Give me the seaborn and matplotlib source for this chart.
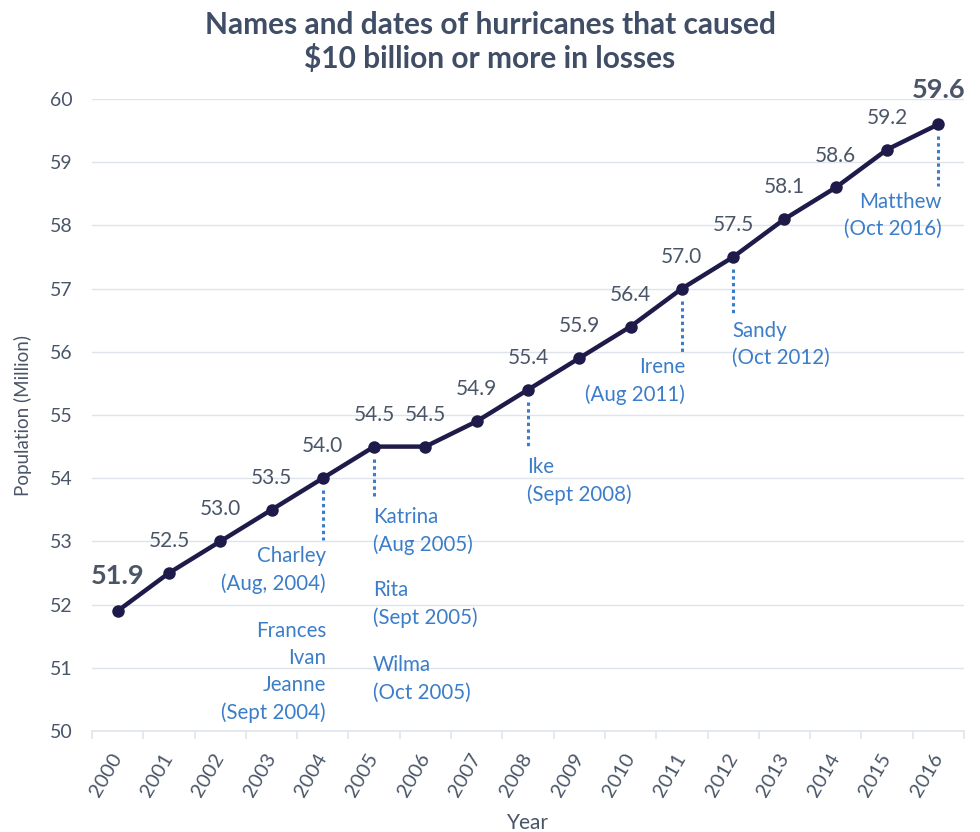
import matplotlib
matplotlib.use("Agg")
import matplotlib.pyplot as plt
import seaborn as sns
import pandas as pd
import numpy as np

years = [str(y) for y in range(2000, 2017)]
population = [51.9, 52.5, 53.0, 53.5, 54.0, 54.5, 54.5, 54.9, 55.4,
              55.9, 56.4, 57.0, 57.5, 58.1, 58.6, 59.2, 59.6]

# hurricane notes: year, text, alignment side, and how far below the point the text starts
storm_years = ["2004", "2004", "2005", "2005", "2005", "2008", "2011", "2012", "2016"]
storm_texts = ["Charley\n(Aug, 2004)", "Frances\nIvan\nJeanne\n(Sept 2004)",
               "Katrina\n(Aug 2005)", "Rita\n(Sept 2005)", "Wilma\n(Oct 2005)",
               "Ike\n(Sept 2008)", "Irene\n(Aug 2011)", "Sandy\n(Oct 2012)",
               "Matthew\n(Oct 2016)"]
storm_side = ["right", "right", "left", "left", "left", "left", "right", "left", "right"]
storm_drop = [1.07, 2.26, 0.96, 2.11, 3.30, 1.06, 1.08, 1.01, 1.07]
line_years = ["2004", "2005", "2008", "2011", "2012", "2016"]
line_len = [0.79, 0.63, 0.70, 0.82, 0.71, 0.79]

df = pd.DataFrame({"year": years, "pos": np.arange(len(years)), "pop": population})

sns.set_theme(style="white")
plt.rcParams["font.family"] = ["Lato", "DejaVu Sans"]

NAVY = "#1e1b4b"
SLATE = "#4a5568"
BLUE = "#3b7dc8"
GRID = "#dfe4ec"

fig = plt.figure(figsize=(9.8, 8.32), dpi=100)
ax = fig.add_axes([92 / 980, 1 - 731 / 832, 872 / 980, 632 / 832])

sns.lineplot(data=df, x="pos", y="pop", ax=ax, color=NAVY, linewidth=3.2,
             marker="o", markersize=9, markeredgewidth=0, zorder=3)

ax.set_xlim(-0.5, len(years) - 0.5)
ax.set_ylim(50, 60)
ax.set_yticks(range(50, 61))
ax.yaxis.grid(True, color=GRID, linewidth=1)
ax.xaxis.grid(False)
for s in ["top", "right", "left"]:
    ax.spines[s].set_visible(False)
ax.spines["bottom"].set_color(GRID)
ax.spines["bottom"].set_linewidth(1.2)

ax.set_xticks(np.arange(len(years)))
ax.set_xticklabels(years, rotation=60, ha="right", va="center",
                   rotation_mode="anchor")
ax.set_xticks(np.arange(len(years) + 1) - 0.5, minor=True)
ax.tick_params(axis="x", which="major", length=0, pad=17, labelsize=14.5,
               labelcolor=SLATE)
ax.tick_params(axis="x", which="minor", length=6, width=1.2, color=GRID,
               direction="out", bottom=True)
ax.tick_params(axis="y", length=0, pad=14, labelsize=14, labelcolor=SLATE)

ax.set_xlabel("Year", fontsize=15, color=SLATE, labelpad=10)
ax.set_ylabel("Population (Million)", fontsize=13.5, color=SLATE, labelpad=13)

# value labels
last = len(years) - 1
for i, v in enumerate(population):
    bold = i in (0, last)
    ax.annotate(f"{v:.1f}", (i, v), xytext=(0, 25 if bold else 23),
                textcoords="offset points", ha="center", va="center",
                fontsize=19.5 if bold else 15, fontweight="bold" if bold else "normal",
                color=SLATE, annotation_clip=False)

# dotted leader lines below the hurricane years
for yr, ln in zip(line_years, line_len):
    i = years.index(yr)
    v = population[i]
    ax.vlines(i, v - 0.19, v - 0.19 - ln, colors=BLUE, linewidth=2.2,
              linestyles=(0, (1.1, 1.1)), zorder=2)

# hurricane names and dates
for yr, txt, side, drop in zip(storm_years, storm_texts, storm_side, storm_drop):
    i = years.index(yr)
    v = population[i]
    dx = 0.06 if side == "right" else -0.02
    ax.text(i + dx, v - drop, txt, ha=side, va="top", fontsize=14.8,
            color=BLUE, linespacing=1.45, multialignment=side)

fig.text(0.5, 1 - 11 / 832, "Names and dates of hurricanes that caused\n$10 billion or more in losses",
         ha="center", va="top", fontsize=21.5, fontweight="bold", color="#3f4e66",
         linespacing=1.22, parse_math=False)

fig.savefig("out.png", dpi=100)
